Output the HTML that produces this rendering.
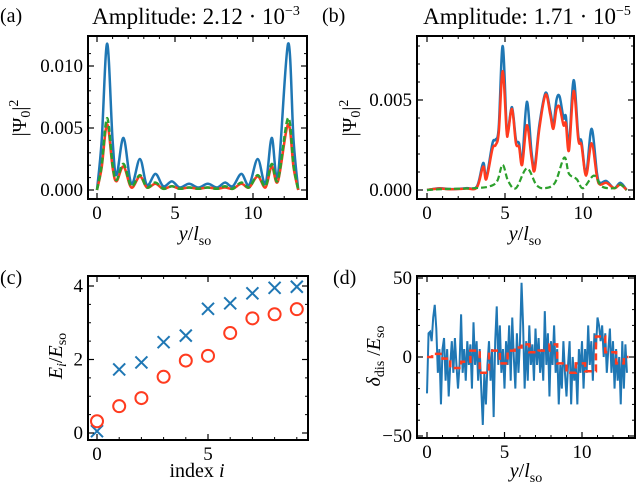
<!DOCTYPE html>
<html><head><meta charset="utf-8">
<style>
html,body{margin:0;padding:0;background:#fff;}
svg{display:block;}
svg text{font-family:"Liberation Serif","DejaVu Serif","Times New Roman",serif;}
</style></head>
<body>
<svg id="fig" width="640" height="485" viewBox="0 0 640 485" xmlns="http://www.w3.org/2000/svg">
<g id="root"></g>
</svg>
<script>
// ---------- data ----------
// Panel (a)
const aBlueX=[0,0.3,0.65,1.0,1.25,1.7,2.2,2.75,3.2,3.75,4.25,4.8,5.3,5.9,6.5,7.1,7.7,8.2,8.7,9.25,9.75,10.3,10.8,11.2,11.6,12.25,12.6,12.9];
const aBlueY=[0,0.004,0.0118,0.004,0.0012,0.0042,0.0005,0.0025,0.0004,0.0013,0.0003,0.0007,0.0002,0.0005,0.0002,0.0005,0.0002,0.0006,0.0003,0.0013,0.0004,0.0025,0.0005,0.0042,0.0012,0.0118,0.004,0];
const aGreenY=[0,0.002,0.0058,0.002,0.0008,0.0021,0.0003,0.0012,0.0002,0.0006,0.0001,0.0003,0.0001,0.0002,0.0001,0.0002,0.0001,0.0003,0.0001,0.0006,0.0002,0.0012,0.0003,0.0021,0.0008,0.0058,0.002,0];
const aRedY=[0,0.0018,0.0053,0.0018,0.0007,0.0019,0.0002,0.0011,0.0002,0.0005,0.0001,0.0003,0.0001,0.0002,0.0001,0.0002,0.0001,0.0002,0.0001,0.0005,0.0002,0.0011,0.0002,0.0019,0.0007,0.0053,0.0018,0];
const aTicksX=[0,5,10];
const aTicksY=[0,0.005,0.010];
const aTickLabelsY=["0.000","0.005","0.010"];
// Panel (b)
const bX=[0,0.8,1.5,2.5,3.2,3.6,3.8,4.2,4.4,4.6,4.85,5.1,5.2,5.45,5.7,5.9,6.1,6.4,6.7,6.9,7.2,7.6,7.9,8.1,8.3,8.5,8.75,8.9,9.1,9.4,9.7,9.9,10.2,10.55,10.9,11.1,11.5,12.0,12.4,12.8];
const bBlueY=[0,0.0001,0.00005,0.0001,0.0002,0.0015,0.0007,0.0026,0.0028,0.0035,0.0080,0.0035,0.0033,0.0046,0.0028,0.0026,0.0016,0.0049,0.0021,0.0013,0.0036,0.0054,0.0044,0.0036,0.0050,0.0052,0.0040,0.0041,0.0025,0.0061,0.0030,0.0027,0.0009,0.0034,0.0009,0.0004,0.0005,0.0001,0.0004,0];
const bRedY=[0,0.00008,0.00004,0.00008,0.00015,0.0013,0.0006,0.0023,0.0025,0.0032,0.0066,0.0033,0.0032,0.0045,0.0026,0.0024,0.0014,0.0036,0.0018,0.0011,0.0034,0.0053,0.0042,0.0034,0.0045,0.0046,0.0036,0.0037,0.0022,0.0055,0.0028,0.0025,0.0008,0.0026,0.0007,0.0003,0.0004,0.0001,0.0003,0];
const bGreenX=[0,1,3,4,4.5,4.85,5.2,5.7,6.4,7,7.5,8.2,8.8,9.1,9.6,10,10.7,11.2,12,12.4,12.8];
const bGreenY=[0,0.00005,0.0001,0.0002,0.0005,0.0014,0.0005,0.0001,0.0012,0.0003,0.0001,0.0004,0.0018,0.0009,0.0006,0.0001,0.0008,0.0002,0.0001,0.0003,0];
const bTicksX=[0,5,10];
const bTicksY=[0,0.005];
const bTickLabelsY=["0.000","0.005"];
// Panel (c)
const cIndex=[0,1,2,3,4,5,6,7,8,9];
const cCross=[0.05,1.73,1.92,2.47,2.65,3.38,3.53,3.80,3.95,3.98];
const cCircle=[0.32,0.73,0.95,1.53,1.97,2.10,2.72,3.12,3.23,3.37];
const cTicksX=[0,5];
const cTicksY=[0,2,4];
// Panel (d)
const dNoise=[-23,15,16,10,25,33,18,-10,5,-30,5,12,-15,5,-25,-5,10,-10,12,-5,-20,-5,27,-10,5,-15,10,-5,8,-20,22,-5,10,-15,5,-20,-43,-10,-30,-5,10,-15,5,-38,10,32,-5,20,-10,5,-20,10,-5,20,-15,25,0,-20,15,-10,10,47,20,-20,10,-15,20,-5,8,-15,18,-5,12,-10,5,-15,29,-5,15,-25,10,-5,20,-10,5,-30,-5,-20,10,-10,-25,-5,10,-30,0,-15,-5,-30,5,-10,10,-20,5,-10,20,-5,10,-15,15,5,25,20,10,20,0,15,-10,5,18,-10,10,-20,5,-15,0,-30,10,-20,8,-10];
const dNoiseStep=0.1;
const dStepEdges=[0,0.33,1.0,1.5,2.2,2.8,3.4,4.0,4.7,5.2,5.65,6.1,6.6,7.2,7.9,8.4,9.0,9.6,10.2,10.9,11.5,12.2,12.7,13.0];
const dStepVals=[0,2,-1,-7,-3,4,-10,4,-4,4,6,8,3,4,8,-4,-10,-4,-9,13,3,-4,0];
const dTicksX=[0,5,10];
const dTicksY=[-50,0,50];
const dTickLabelsY=["\u221250","0","50"];

// ---------- helpers ----------
const NS="http://www.w3.org/2000/svg";
const root=document.getElementById('root');
const FF="'Liberation Serif', 'DejaVu Serif', serif";
const TFS=19;
function mk(tag,attrs,parent){const e=document.createElementNS(NS,tag);for(const k in attrs)e.setAttribute(k,attrs[k]);if(tag==='text')e.setAttribute('font-family',FF);(parent||root).appendChild(e);return e;}
function lin(d0,d1,r0,r1){return v=>r0+(v-d0)*(r1-r0)/(d1-d0);}
function smoothPath(px,py){
  let d=`M${px[0]},${py[0]}`;
  for(let i=0;i<px.length-1;i++){
    const x0=px[Math.max(i-1,0)],y0=py[Math.max(i-1,0)];
    const x1=px[i],y1=py[i],x2=px[i+1],y2=py[i+1];
    const x3=px[Math.min(i+2,px.length-1)],y3=py[Math.min(i+2,py.length-1)];
    const c1x=x1+(x2-x0)/6,c1y=y1+(y2-y0)/6,c2x=x2-(x3-x1)/6,c2y=y2-(y3-y1)/6;
    d+=` C${c1x},${c1y} ${c2x},${c2y} ${x2},${y2}`;
  }
  return d;
}
function frame(name,L,T,R,B,sx,sy,xt,xtl,yt,ytl,xmin,ymin){
  const g=mk('g',{});
  
  
  for(const v of xmin){const x=sx(v);mk('line',{x1:x,x2:x,y1:B,y2:B-3,stroke:'#000','stroke-width':1},g);mk('line',{x1:x,x2:x,y1:T,y2:T+3,stroke:'#000','stroke-width':1},g);}
  for(const v of ymin){const y=sy(v);mk('line',{x1:L,x2:L+3,y1:y,y2:y,stroke:'#000','stroke-width':1},g);mk('line',{x1:R,x2:R-3,y1:y,y2:y,stroke:'#000','stroke-width':1},g);}
  xt.forEach((v,i)=>{const x=sx(v);
    mk('line',{x1:x,x2:x,y1:B,y2:B-6,stroke:'#000','stroke-width':1.2},g);
    mk('line',{x1:x,x2:x,y1:T,y2:T+6,stroke:'#000','stroke-width':1.2},g);
    const t=mk('text',{x:x,y:B+20,'text-anchor':'middle','font-size':TFS},g);t.textContent=xtl[i];
    });
  yt.forEach((v,i)=>{const y=sy(v);
    mk('line',{x1:L,x2:L+6,y1:y,y2:y,stroke:'#000','stroke-width':1.2},g);
    mk('line',{x1:R,x2:R-6,y1:y,y2:y,stroke:'#000','stroke-width':1.2},g);
    const t=mk('text',{x:L-5,y:y+6,'text-anchor':'end','font-size':TFS},g);t.textContent=ytl[i];
    });
  mk('rect',{x:L,y:T,width:R-L,height:B-T,fill:'none',stroke:'#000','stroke-width':2},g);
}
function range(a,b,s){const r=[];for(let v=a;v<=b+1e-9;v+=s)r.push(+v.toFixed(6));return r;}
function text(str,attrs,name){const t=mk('text',attrs);t.innerHTML=str;return t;}
const BLUE='#1f77b4',RED='#ff3b1f',GREEN='#2ca02c';

// ---------- panel a ----------
{
 const L=88,T=36,R=307,B=199;
 const sx=lin(0,10,97,253), sy=lin(0,0.010,190,66);
 const pB=mk('path',{d:smoothPath(aBlueX.map(sx),aBlueY.map(sy)),fill:'none',stroke:BLUE,'stroke-width':2.5});
 
 const pR=mk('path',{d:smoothPath(aBlueX.map(sx),aRedY.map(sy)),fill:'none',stroke:RED,'stroke-width':2.5});
 
 const pG=mk('path',{d:smoothPath(aBlueX.map(sx),aGreenY.map(sy)),fill:'none',stroke:GREEN,'stroke-width':2.5,'stroke-dasharray':'6,3'});
 
 frame('a',L,T,R,B,sx,sy,aTicksX,aTicksX.map(String),aTicksY,aTickLabelsY,range(0,12,1).filter(v=>v%5),range(0,0.011,0.001).filter((v,i)=>i%5));
 text('(a)',{x:0,y:22,'font-size':20},'panel-a-label');
 text('Amplitude: 2.12 · 10<tspan dy="-9" font-size="14">−3</tspan>',{x:196,y:24,'font-size':23,'text-anchor':'middle'},'a-title');
 text('|Ψ<tspan dy="4" font-size="14">0</tspan><tspan dy="-4">|</tspan><tspan dy="-8" font-size="14">2</tspan>',{x:0,y:0,'font-size':20,'text-anchor':'middle',transform:'translate(26,118) rotate(-90)'},'a-y-axis-title');
 text('<tspan font-style="italic">y</tspan>/<tspan font-style="italic">l</tspan><tspan dy="5" font-size="14">so</tspan>',{x:195,y:240,'font-size':20,'text-anchor':'middle'},'a-x-axis-title');
}
// ---------- panel b ----------
{
 const L=417,T=36,R=634,B=199;
 const sx=lin(0,10,427,583), sy=lin(0,0.005,190,100);
 const pB=mk('path',{d:smoothPath(bX.map(sx),bBlueY.map(sy)),fill:'none',stroke:BLUE,'stroke-width':2.5});
 
 const pR=mk('path',{d:smoothPath(bX.map(sx),bRedY.map(sy)),fill:'none',stroke:RED,'stroke-width':2.5});
 
 const pG=mk('path',{d:smoothPath(bGreenX.map(sx),bGreenY.map(sy)),fill:'none',stroke:GREEN,'stroke-width':2.2,'stroke-dasharray':'6,3'});
 
 frame('b',L,T,R,B,sx,sy,bTicksX,bTicksX.map(String),bTicksY,bTickLabelsY,range(0,13,1).filter(v=>v%5),range(0,0.008,0.001).filter((v,i)=>i%5));
 text('(b)',{x:322,y:22,'font-size':20},'panel-b-label');
 text('Amplitude: 1.71 · 10<tspan dy="-9" font-size="14">−5</tspan>',{x:527,y:24,'font-size':23,'text-anchor':'middle'},'b-title');
 text('|Ψ<tspan dy="4" font-size="14">0</tspan><tspan dy="-4">|</tspan><tspan dy="-8" font-size="14">2</tspan>',{x:0,y:0,'font-size':20,'text-anchor':'middle',transform:'translate(356,118) rotate(-90)'},'b-y-axis-title');
 text('<tspan font-style="italic">y</tspan>/<tspan font-style="italic">l</tspan><tspan dy="5" font-size="14">so</tspan>',{x:525,y:240,'font-size':20,'text-anchor':'middle'},'b-x-axis-title');
}
// ---------- panel c ----------
{
 const L=88,T=276,R=308,B=440;
 const sx=lin(0,5,97,208), sy=lin(0,4,433,286);
 cIndex.forEach((v,i)=>{const x=sx(v),y=sy(cCross[i]);
   const g=mk('path',{d:`M${x-6},${y-6}L${x+6},${y+6}M${x-6},${y+6}L${x+6},${y-6}`,stroke:BLUE,'stroke-width':2,fill:'none'});
   
   const c=mk('circle',{cx:x,cy:sy(cCircle[i]),r:6,fill:'none',stroke:RED,'stroke-width':2});
   });
 frame('c',L,T,R,B,sx,sy,cTicksX,cTicksX.map(String),cTicksY,cTicksY.map(String),range(0,9,1).filter(v=>v%5),range(0,4,0.5).filter(v=>v%2));
 text('(c)',{x:0,y:284,'font-size':20},'panel-c-label');
 text('<tspan font-style="italic">E</tspan><tspan dy="4" font-size="14" font-style="italic">i</tspan><tspan dy="-4">/</tspan><tspan font-style="italic">E</tspan><tspan dy="4" font-size="14">so</tspan>',{x:0,y:0,'font-size':20,'text-anchor':'middle',transform:'translate(62,356) rotate(-90)'},'c-y-axis-title');
 text('index <tspan font-style="italic">i</tspan>',{x:197,y:477,'font-size':20,'text-anchor':'middle'},'c-x-axis-title');
}
// ---------- panel d ----------
{
 const L=417,T=276,R=635,B=438;
 const sx=lin(0,10,427,582), sy=lin(-50,50,436,278);
 const px=dNoise.map((v,i)=>sx(i*dNoiseStep)), py=dNoise.map(sy);
 let d='M'+px.map((x,i)=>x+','+py[i]).join('L');
 const pB=mk('path',{d:d,fill:'none',stroke:BLUE,'stroke-width':2});
 
 let s='';
 dStepVals.forEach((v,i)=>{const y=sy(v);s+=(i?'L':'M')+sx(dStepEdges[i])+','+y+'L'+sx(dStepEdges[i+1])+','+y;});
 const pR=mk('path',{d:s,fill:'none',stroke:RED,'stroke-width':2.5,'stroke-dasharray':'7,4'});
 
 frame('d',L,T,R,B,sx,sy,dTicksX,dTicksX.map(String),dTicksY,dTickLabelsY,range(0,13,1).filter(v=>v%5),range(-50,50,10).filter(v=>v%50));
 text('(d)',{x:333,y:284,'font-size':20},'panel-d-label');
 text('<tspan font-style="italic">δ</tspan><tspan dy="4" font-size="14">dis</tspan><tspan dy="-4"> /</tspan><tspan font-style="italic">E</tspan><tspan dy="4" font-size="14">so</tspan>',{x:0,y:0,'font-size':20,'text-anchor':'middle',transform:'translate(380,356) rotate(-90)'},'d-y-axis-title');
 text('<tspan font-style="italic">y</tspan>/<tspan font-style="italic">l</tspan><tspan dy="5" font-size="14">so</tspan>',{x:526,y:477,'font-size':20,'text-anchor':'middle'},'d-x-axis-title');
}
</script>
</body></html>
